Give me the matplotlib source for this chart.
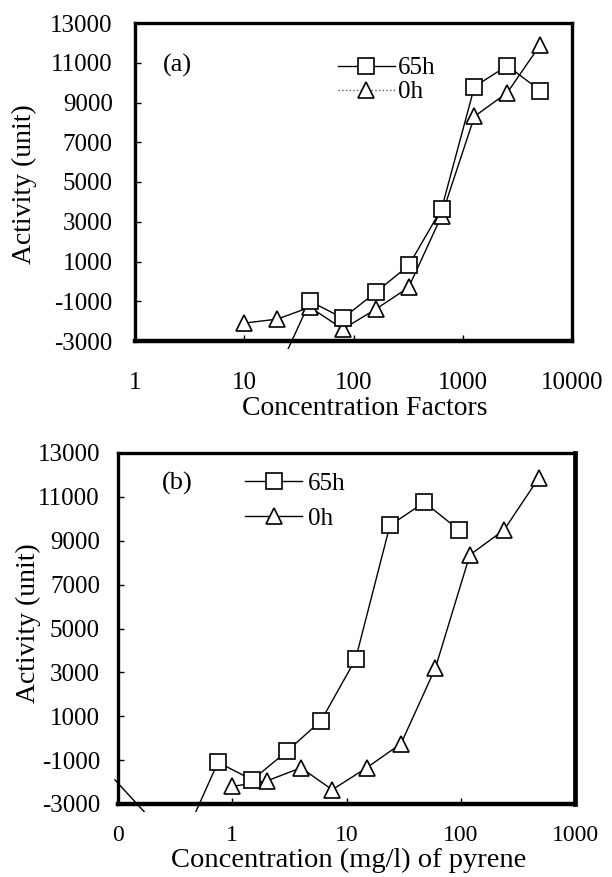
import matplotlib
matplotlib.use("Agg")
import matplotlib.pyplot as plt
from matplotlib.lines import Line2D
from matplotlib.transforms import Bbox, TransformedBbox

plt.rcParams['font.family'] = ['Liberation Serif', 'DejaVu Serif']
plt.rcParams['axes.unicode_minus'] = False

# ---- data -------------------------------------------------------------
# panel (a): concentration factors
cf_0h = [10, 20, 40, 80, 160, 320, 640, 1280, 2560, 5120]
act_0h_a = [-2100, -1900, -1300, -2400, -1400, -300, 3300, 8300, 9500, 11900]
cf_65h = [20, 40, 80, 160, 320, 640, 1280, 2560, 5120]
act_65h_a = [-4600, -1000, -1850, -550, 800, 3650, 9800, 10850, 9600]

# panel (b): concentration of pyrene (mg/l)
pyr_0h = [1, 2, 4, 7.5, 15, 30, 60, 120, 240, 480]
act_0h_b = [-2200, -1950, -1350, -2350, -1350, -250, 3200, 8350, 9500, 11850]
pyr_65h = [0.094, 0.1875, 0.375, 0.75, 1.5, 3, 6, 12, 24, 48, 96]
act_65h_b = [-1900, -3600, -4600, -1100, -1900, -600, 800, 3600, 9700, 10750, 9500]

series_labels = ['65h', '0h']
yticks = [-3000, -1000, 1000, 3000, 5000, 7000, 9000, 11000, 13000]
xticks_a = [1, 10, 100, 1000, 10000]
xticklabels_a = ['1', '10', '100', '1000', '10000']
xticks_b = [0.1, 1, 10, 100, 1000]
xticklabels_b = ['0', '1', '10', '100', '1000']

# ---- styles -----------------------------------------------------------
sq = dict(marker='s', markersize=11.5, markerfacecolor='white',
          markeredgecolor='black', markeredgewidth=1.2, linestyle='none')
tri = dict(marker='^', markersize=11.5, markerfacecolor='white',
           markeredgecolor='black', markeredgewidth=1.2, linestyle='none')
line_kw = dict(color='black', linewidth=1.0)

W, H = 612, 877
fig = plt.figure(figsize=(W / 100, H / 100), dpi=100)
ax1 = fig.add_axes([135 / W, 1 - 341 / H, 437 / W, 318 / H])
ax2 = fig.add_axes([118 / W, 1 - 804 / H, 457 / W, 351 / H])


def draw_series(ax, x, y, mstyle, xlim, ylim, ext_left_px, ext_bottom_px, ax_w_px, ax_h_px):
    ln, = ax.plot(x, y, **line_kw, zorder=2)
    bb = Bbox.from_extents(-ext_left_px / ax_w_px, -ext_bottom_px / ax_h_px, 1, 1)
    ln.set_clip_path(None)
    ln.set_clip_box(TransformedBbox(bb, ax.transAxes))
    keep = [i for i in range(len(x))
            if xlim[0] <= x[i] <= xlim[1] and ylim[0] <= y[i] <= ylim[1]]
    ax.plot([x[i] for i in keep], [y[i] for i in keep], **mstyle, zorder=3)


ylim = (yticks[0], yticks[-1])
xlim_a = (xticks_a[0], xticks_a[-1])
xlim_b = (xticks_b[0], xticks_b[-1])
draw_series(ax1, cf_0h, act_0h_a, tri, xlim_a, ylim, 0, 8, 437, 318)
draw_series(ax1, cf_65h, act_65h_a, sq, xlim_a, ylim, 0, 8, 437, 318)
draw_series(ax2, pyr_0h, act_0h_b, tri, xlim_b, ylim, 5, 8, 457, 351)
draw_series(ax2, pyr_65h, act_65h_b, sq, xlim_b, ylim, 5, 8, 457, 351)

for ax, xt, xtl in [(ax1, xticks_a, xticklabels_a), (ax2, xticks_b, xticklabels_b)]:
    ax.set_xscale('log')
    ax.set_xlim(xt[0], xt[-1])
    ax.set_ylim(*ylim)
    ax.set_xticks(xt)
    ax.set_xticklabels(xtl)
    ax.xaxis.set_minor_locator(matplotlib.ticker.NullLocator())
    ax.set_yticks(yticks)
    ax.set_yticklabels([str(v) for v in yticks])
    ax.tick_params(direction='in', length=4, width=1, labelsize=18)
    for s in ax.spines.values():
        s.set_linewidth(2.4)
    ax.spines['bottom'].set_linewidth(3.2)

ax1.tick_params(axis='x', pad=22)
ax1.tick_params(axis='y', pad=16)
ax2.tick_params(axis='x', pad=15, labelsize=17)
ax2.tick_params(axis='y', pad=13)
ax2.spines['right'].set_linewidth(3.4)

ax1.set_xlabel('Concentration Factors', fontsize=20)
ax1.xaxis.set_label_coords(0.526, -0.213)
ax1.xaxis.label.set_va('center')
ax1.set_ylabel('Activity (unit)', fontsize=20)
ax1.yaxis.set_label_coords(-0.252, 0.494)
ax1.yaxis.label.set_va('center')

ax2.set_xlabel('Concentration (mg/l) of pyrene', fontsize=20.5)
ax2.xaxis.set_label_coords(0.505, -0.1595)
ax2.xaxis.label.set_va('center')
ax2.set_ylabel('Activity (unit)', fontsize=20)
ax2.yaxis.set_label_coords(-0.195, 0.516)
ax2.yaxis.label.set_va('center')

ax1.text(0.098, 0.865, '(a)', transform=ax1.transAxes, ha='center', va='center', fontsize=19)
ax2.text(0.129, 0.912, '(b)', transform=ax2.transAxes, ha='center', va='center', fontsize=19)

# legends
h_a = [Line2D([], [], color='black', linewidth=1.0, **{k: v for k, v in sq.items() if k != 'linestyle'}),
       Line2D([], [], color='0.35', linewidth=1.0, linestyle=':', **{k: v for k, v in tri.items() if k != 'linestyle'})]
ax1.legend(h_a, series_labels, loc='center left', bbox_to_anchor=(0.4645, 0.82),
           borderaxespad=0, borderpad=0, frameon=False, fontsize=18,
           handlelength=2.28, handletextpad=0.12, labelspacing=0.06, numpoints=1)

h_b = [Line2D([], [], color='black', linewidth=1.0, **{k: v for k, v in sq.items() if k != 'linestyle'}),
       Line2D([], [], color='black', linewidth=1.0, **{k: v for k, v in tri.items() if k != 'linestyle'})]
ax2.legend(h_b, series_labels, loc='center left', bbox_to_anchor=(0.278, 0.863),
           borderaxespad=0, borderpad=0, frameon=False, fontsize=18,
           handlelength=2.28, handletextpad=0.24, labelspacing=0.48, numpoints=1)

fig.savefig('out.png', dpi=100)
